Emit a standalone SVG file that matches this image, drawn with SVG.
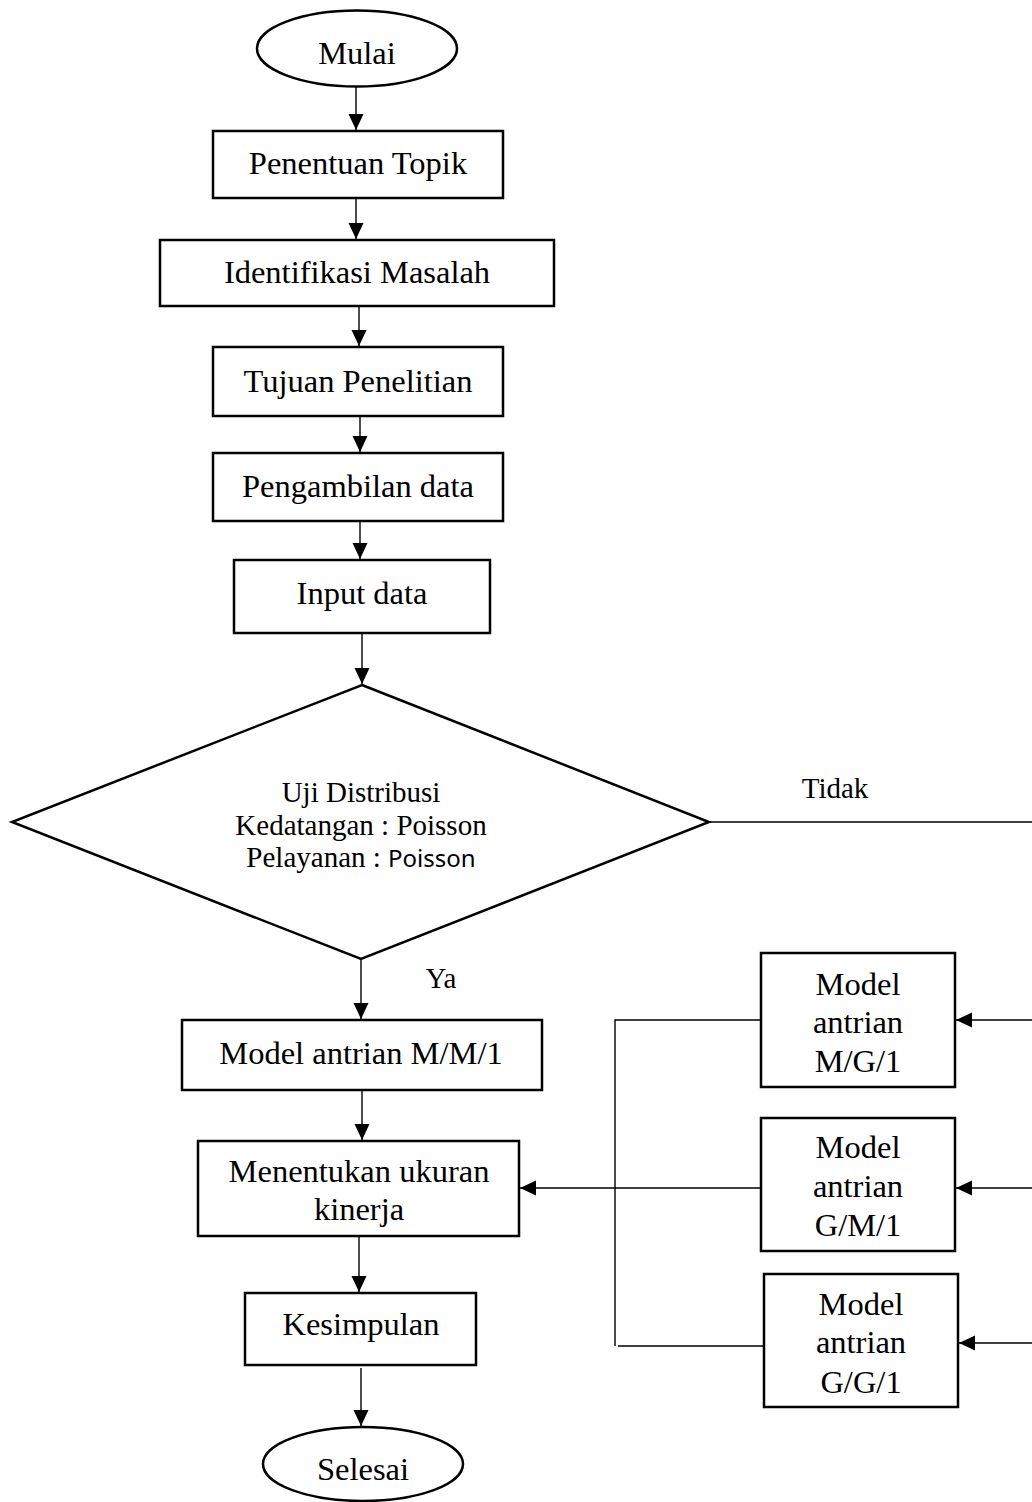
<svg xmlns="http://www.w3.org/2000/svg" width="1032" height="1502" viewBox="0 0 1032 1502">
<style>
.box{fill:#fff;stroke:#000;stroke-width:2.5}
.t{font-family:"Liberation Serif","Times New Roman",serif;font-size:32.5px;fill:#000;text-anchor:middle}
.d{font-family:"Liberation Serif","Times New Roman",serif;font-size:29px;fill:#000;text-anchor:middle}
.c{fill:none;stroke:#000;stroke-width:1.4}
</style>
<defs>
<marker id="ah" markerUnits="userSpaceOnUse" markerWidth="18" markerHeight="16" refX="16" refY="7.5" orient="auto">
<path d="M0,0 L16,7.5 L0,15 z" fill="#000"/>
</marker>
</defs>
<rect width="1032" height="1502" fill="#fff"/>
<g id="connectors">
<line class="c" x1="356" y1="87" x2="356" y2="130" marker-end="url(#ah)"/>
<line class="c" x1="356" y1="198" x2="356" y2="239" marker-end="url(#ah)"/>
<line class="c" x1="359" y1="306" x2="359" y2="346" marker-end="url(#ah)"/>
<line class="c" x1="360" y1="416" x2="360" y2="452" marker-end="url(#ah)"/>
<line class="c" x1="360" y1="521" x2="360" y2="559" marker-end="url(#ah)"/>
<line class="c" x1="362" y1="633" x2="362" y2="684" marker-end="url(#ah)"/>
<line class="c" x1="361" y1="959" x2="361" y2="1019" marker-end="url(#ah)"/>
<line class="c" x1="362" y1="1090" x2="362" y2="1140" marker-end="url(#ah)"/>
<line class="c" x1="359" y1="1236" x2="359" y2="1292" marker-end="url(#ah)"/>
<line class="c" x1="361" y1="1368" x2="361" y2="1426" marker-end="url(#ah)"/>
<line class="c" x1="710" y1="822" x2="1032" y2="822"/>
<line class="c" x1="1032" y1="1020" x2="956" y2="1020" marker-end="url(#ah)"/>
<line class="c" x1="1032" y1="1188" x2="956" y2="1188" marker-end="url(#ah)"/>
<line class="c" x1="1032" y1="1343" x2="959" y2="1343" marker-end="url(#ah)"/>
<polyline class="c" points="761,1020 615,1020 615,1346"/>
<line class="c" x1="618" y1="1346" x2="764" y2="1346"/>
<line class="c" x1="761" y1="1188" x2="520" y2="1188" marker-end="url(#ah)"/>
</g>
<g id="mulai">
<ellipse class="box" cx="357" cy="48.5" rx="100" ry="38"/>
<text class="t" x="357" y="64">Mulai</text>
</g>
<g id="penentuan-topik">
<rect class="box" x="213" y="131" width="290" height="67"/>
<text class="t" x="358" y="174">Penentuan Topik</text>
</g>
<g id="identifikasi-masalah">
<rect class="box" x="160" y="240" width="394" height="66"/>
<text class="t" x="357" y="283">Identifikasi Masalah</text>
</g>
<g id="tujuan-penelitian">
<rect class="box" x="213" y="347" width="290" height="69"/>
<text class="t" x="358" y="392">Tujuan Penelitian</text>
</g>
<g id="pengambilan-data">
<rect class="box" x="213" y="453" width="290" height="68"/>
<text class="t" x="358" y="497">Pengambilan data</text>
</g>
<g id="input-data">
<rect class="box" x="234" y="560" width="256" height="73"/>
<text class="t" x="362" y="604">Input data</text>
</g>
<g id="uji-distribusi">
<polygon class="box" points="362,685 709,822 361,959 12,822"/>
<text class="d" x="361" y="802">Uji Distribusi</text>
<text class="d" x="361" y="835">Kedatangan : Poisson</text>
<text class="d" x="361" y="867">Pelayanan : <tspan style="font-family:'Noto Sans','Liberation Sans',sans-serif;font-size:24px">Poisson</tspan></text>
</g>
<g id="label-tidak"><text class="d" x="835" y="798">Tidak</text></g>
<g id="label-ya"><text class="d" x="441" y="988">Ya</text></g>
<g id="model-mm1">
<rect class="box" x="182" y="1020" width="360" height="70"/>
<text class="t" x="361" y="1064">Model antrian M/M/1</text>
</g>
<g id="menentukan">
<rect class="box" x="198" y="1141" width="321" height="95"/>
<text class="t" x="359" y="1182">Menentukan ukuran</text>
<text class="t" x="359" y="1220">kinerja</text>
</g>
<g id="kesimpulan">
<rect class="box" x="245" y="1293" width="231" height="72"/>
<text class="t" x="361" y="1335">Kesimpulan</text>
</g>
<g id="selesai">
<ellipse class="box" cx="363" cy="1464" rx="100" ry="37"/>
<text class="t" x="363" y="1480">Selesai</text>
</g>
<g id="model-mg1">
<rect class="box" x="761" y="953" width="194" height="134"/>
<text class="t" x="858" y="995">Model</text>
<text class="t" x="858" y="1033">antrian</text>
<text class="t" x="858" y="1072">M/G/1</text>
</g>
<g id="model-gm1">
<rect class="box" x="761" y="1118" width="194" height="133"/>
<text class="t" x="858" y="1158">Model</text>
<text class="t" x="858" y="1197">antrian</text>
<text class="t" x="858" y="1236">G/M/1</text>
</g>
<g id="model-gg1">
<rect class="box" x="764" y="1274" width="194" height="133"/>
<text class="t" x="861" y="1315">Model</text>
<text class="t" x="861" y="1353">antrian</text>
<text class="t" x="861" y="1393">G/G/1</text>
</g>
</svg>
